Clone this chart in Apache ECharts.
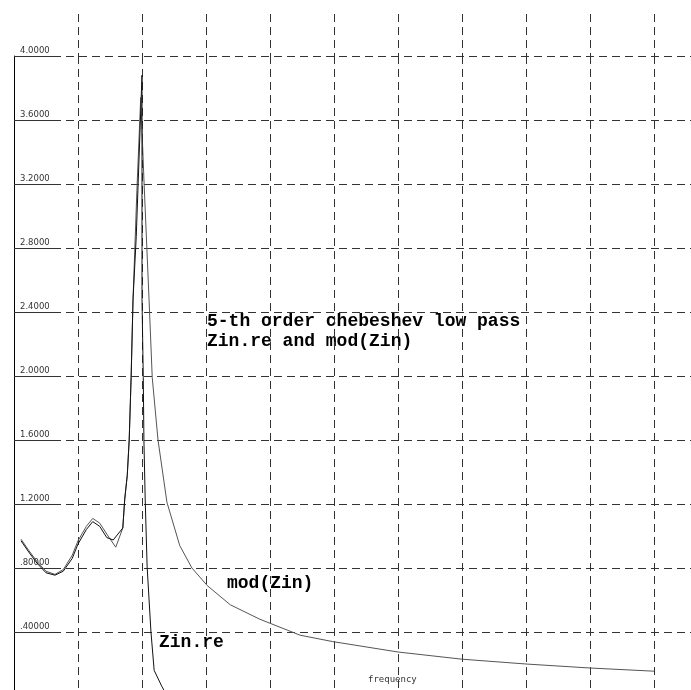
<!DOCTYPE html>
<html>
<head>
<meta charset="utf-8">
<script src="https://cdn.jsdelivr.net/npm/echarts@6/dist/echarts.min.js"></script>
<style>html,body{margin:0;padding:0;background:#fff}#c{width:691px;height:690px}</style>
</head>
<body>
<div id="c"></div>
<script>
// mod(Zin)
var modX = [0.11, 0.23, 0.36, 0.50, 0.64, 0.77, 0.91, 1.00, 1.13, 1.23, 1.34, 1.47, 1.59, 1.70, 1.73, 1.77, 1.80, 1.83, 1.86, 1.92, 1.98, 2.03, 2.11, 2.16, 2.25, 2.39, 2.59, 2.78, 3.02, 3.38, 3.84, 4.47, 4.98, 6.0, 7.0, 8.0, 9.0, 10.0];
var modY = [0.98, 0.91, 0.84, 0.78, 0.76, 0.79, 0.88, 0.97, 1.06, 1.11, 1.08, 1.00, 0.93, 1.05, 1.23, 1.38, 1.60, 1.99, 2.48, 3.16, 3.74, 3.23, 2.48, 1.99, 1.60, 1.21, 0.94, 0.80, 0.69, 0.57, 0.48, 0.38, 0.34, 0.275, 0.23, 0.20, 0.175, 0.155];
// Zin.re
var reX = [0.11, 0.23, 0.36, 0.50, 0.64, 0.77, 0.91, 1.00, 1.13, 1.23, 1.34, 1.45, 1.55, 1.70, 1.73, 1.77, 1.80, 1.83, 1.86, 1.91, 2.00, 2.00, 2.02, 2.03, 2.05, 2.08, 2.14, 2.19, 2.31, 2.38];
var reY = [0.97, 0.90, 0.83, 0.77, 0.755, 0.78, 0.86, 0.95, 1.04, 1.09, 1.06, 0.99, 0.975, 1.05, 1.23, 1.38, 1.60, 1.99, 2.48, 2.87, 3.88, 2.48, 1.99, 1.60, 1.23, 0.81, 0.40, 0.16, 0.06, 0.01];
// axis
var yTicks = [0, 0.4, 0.8, 1.2, 1.6, 2.0, 2.4, 2.8, 3.2, 3.6, 4.0];
var yLabels = ['', '.40000', '.80000', '1.2000', '1.6000', '2.0000', '2.4000', '2.8000', '3.2000', '3.6000', '4.0000'];
var titleLines = ['5-th order chebeshev low pass', 'Zin.re and mod(Zin)'];
var xName = 'frequency';

function zip(a, b) { return a.map(function (v, i) { return [v, b[i]]; }); }
function yLab(v) {
  for (var i = 0; i < yTicks.length; i++) if (Math.abs(yTicks[i] - v) < 1e-6) return yLabels[i];
  return '';
}

var chart = echarts.init(document.getElementById('c'));
var gridLine = { show: true, lineStyle: { color: '#333', width: 1, type: [8, 5] } };
var monoFont = { fontFamily: 'Liberation Mono', fontWeight: 'bold', fontSize: 18, fill: '#000' };

chart.setOption({
  animation: false,
  backgroundColor: '#fff',
  grid: [
    { left: 14, top: 56, width: 704, height: 640, outerBoundsMode: 'none', containLabel: false },
    { left: 14, top: 14, width: 704, height: 42, outerBoundsMode: 'none', containLabel: false }
  ],
  xAxis: [
    { type: 'value', gridIndex: 0, min: 0, max: 11, interval: 1,
      axisLine: { show: false }, axisTick: { show: false }, axisLabel: { show: false },
      splitLine: gridLine },
    { type: 'value', gridIndex: 1, min: 0, max: 11, interval: 1,
      axisLine: { show: false }, axisTick: { show: false }, axisLabel: { show: false },
      splitLine: { show: true, showMinLine: false, lineStyle: { color: '#333', width: 1, type: [8, 5] } } }
  ],
  yAxis: [
    { type: 'value', gridIndex: 0, min: 0, max: 4.0, interval: 0.4,
      axisLine: { show: true, onZero: false, lineStyle: { color: '#000', width: 1 } },
      axisTick: { show: true, inside: true, length: 43, lineStyle: { color: '#333' } },
      axisLabel: { show: true, inside: true, formatter: yLab, color: '#333',
        fontFamily: 'DejaVu Sans', fontSize: 8.5, verticalAlign: 'bottom', margin: 6, padding: [0, 0, 1, 0] },
      splitLine: gridLine },
    { type: 'value', gridIndex: 1, min: 0, max: 1, show: false, splitLine: { show: false } }
  ],
  series: [
    { name: 'mod(Zin)', type: 'line', xAxisIndex: 0, yAxisIndex: 0, data: zip(modX, modY),
      showSymbol: false, symbol: 'none', lineStyle: { color: '#555', width: 1 } },
    { name: 'Zin.re', type: 'line', xAxisIndex: 0, yAxisIndex: 0, data: zip(reX, reY),
      showSymbol: false, symbol: 'none', lineStyle: { color: '#111', width: 1 } }
  ],
  graphic: [
    { type: 'text', left: 207, top: 312, style: Object.assign({ text: titleLines[0] }, monoFont) },
    { type: 'text', left: 207, top: 332, style: Object.assign({ text: titleLines[1] }, monoFont) },
    { type: 'text', left: 227, top: 574, style: Object.assign({ text: 'mod(Zin)' }, monoFont) },
    { type: 'text', left: 159, top: 633, style: Object.assign({ text: 'Zin.re' }, monoFont) },
    { type: 'text', left: 368, top: 675, style: { text: xName, fontFamily: 'DejaVu Sans Mono', fontSize: 9, fill: '#333' } }
  ]
});
</script>
</body>
</html>
